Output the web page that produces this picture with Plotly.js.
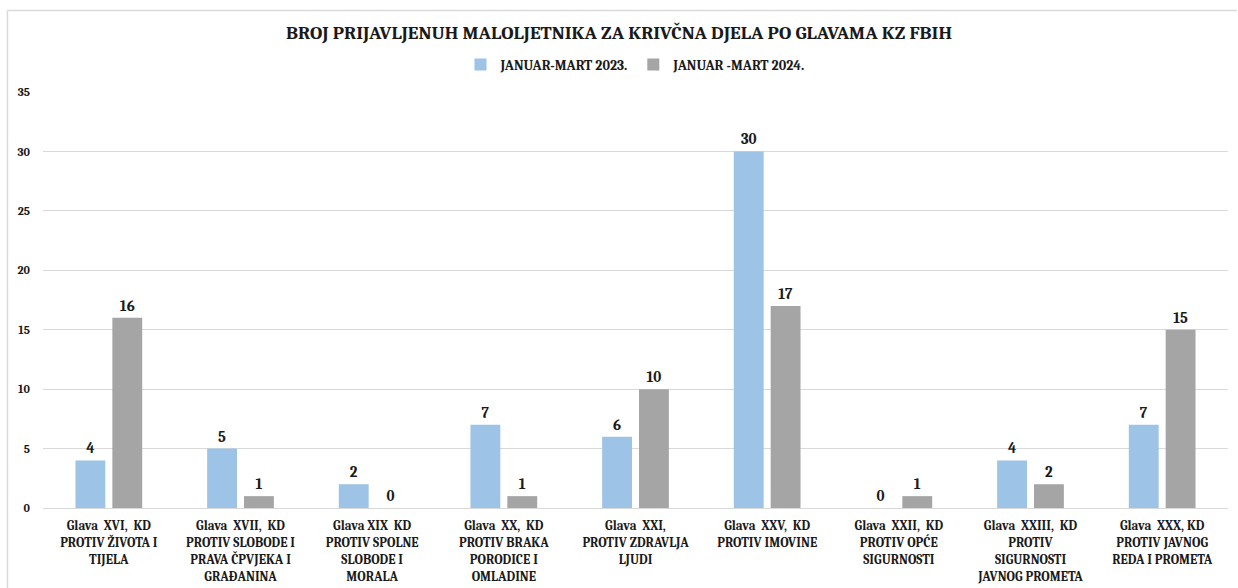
<!DOCTYPE html>
<html>
<head>
<meta charset="utf-8">
<script src="https://cdn.plot.ly/plotly-3.0.1.min.js"></script>
<style>html,body{margin:0;padding:0;background:#fff;}#chart{width:1238px;height:588px;}</style>
</head>
<body>
<div id="chart"></div>
<script>
const categories = [
  "Glava  XVI,  KD<br>PROTIV ŽIVOTA I<br>TIJELA",
  "Glava  XVII,  KD<br>PROTIV SLOBODE I<br>PRAVA ČPVJEKA I<br>GRAĐANINA",
  "Glava XIX  KD<br>PROTIV SPOLNE<br>SLOBODE I<br>MORALA",
  "Glava  XX,  KD<br>PROTIV BRAKA<br>PORODICE I<br>OMLADINE",
  "Glava  XXI,<br>PROTIV ZDRAVLJA<br>LJUDI",
  "Glava  XXV,  KD<br>PROTIV IMOVINE",
  "Glava  XXII,  KD<br>PROTIV OPĆE<br>SIGURNOSTI",
  "Glava  XXIII,  KD<br>PROTIV<br>SIGURNOSTI<br>JAVNOG PROMETA",
  "Glava  XXX, KD<br>PROTIV JAVNOG<br>REDA I PROMETA"
];
const series2023Name = "JANUAR-MART 2023.";
const series2024Name = "JANUAR -MART 2024.";
const values2023 = [4, 5, 2, 7, 6, 30, 0, 4, 7];
const values2024 = [16, 1, 0, 1, 10, 17, 1, 2, 15];
const yTicks = [0, 5, 10, 15, 20, 25, 30, 35];

const F = "Cambria, 'Liberation Serif', 'DejaVu Serif', serif";
const labelFont = {family: F, size: 15, color: "#1a1a1a"};
const b = s => "<b>" + s + "</b>";

const data = [
  {type: "bar", name: b(series2023Name), x: categories, y: values2023,
   marker: {color: "#9DC3E6"}, text: values2023.map(v => b(v)), textposition: "outside",
   textfont: labelFont, cliponaxis: false, hoverinfo: "x+y"},
  {type: "bar", name: b(series2024Name), x: categories, y: values2024,
   marker: {color: "#A5A5A5"}, text: values2024.map(v => b(v)), textposition: "outside",
   textfont: labelFont, cliponaxis: false, hoverinfo: "x+y"}
];

const borderLine = {color: "#D9D9D9", width: 1.5};
const layout = {
  width: 1238, height: 588,
  margin: {l: 43, r: 10, t: 92, b: 80},
  paper_bgcolor: "#fff", plot_bgcolor: "#fff",
  font: {family: F, size: 13, color: "#1a1a1a"},
  title: {text: b("BROJ PRIJAVLJENUH MALOLJETNIKA ZA KRIVČNA DJELA PO GLAVAMA KZ FBIH"),
          font: {family: F, size: 19, color: "#1a1a1a"}, x: 0.5, xanchor: "center", y: 0.945, yanchor: "middle"},
  showlegend: true,
  legend: {orientation: "h", x: 0.5, xanchor: "center", y: 1.065, yanchor: "middle",
           font: {family: F, size: 14, color: "#1a1a1a"}, itemwidth: 30, traceorder: "normal"},
  barmode: "group", bargap: 0.44, bargroupgap: 0.19,
  xaxis: {type: "category", tickfont: {family: F, size: 13, color: "#1a1a1a"},
          showgrid: false, showline: false, ticks: "", tickprefix: "<b>", ticksuffix: "</b>",
          ticklabelstandoff: 8},
  yaxis: {range: [0, 35], tickvals: yTicks, ticktext: yTicks.map(v => b(v)),
          showgrid: true, gridcolor: "#D9D9D9", gridwidth: 1, zeroline: true, zerolinecolor: "#D9D9D9",
          tickfont: {family: F, size: 12, color: "#1a1a1a"}, ticks: "", ticklabelstandoff: 12, showline: false},
  shapes: [
    {type: "line", xref: "paper", yref: "paper", x0: -0.030, x1: -0.030, y0: -0.25, y1: 1.196, line: borderLine},
    {type: "line", xref: "paper", yref: "paper", x0: -0.030, x1: 1.0076, y0: 1.196, y1: 1.196, line: borderLine}
  ]
};

Plotly.newPlot("chart", data, layout, {displayModeBar: false, staticPlot: true});
</script>
</body>
</html>
